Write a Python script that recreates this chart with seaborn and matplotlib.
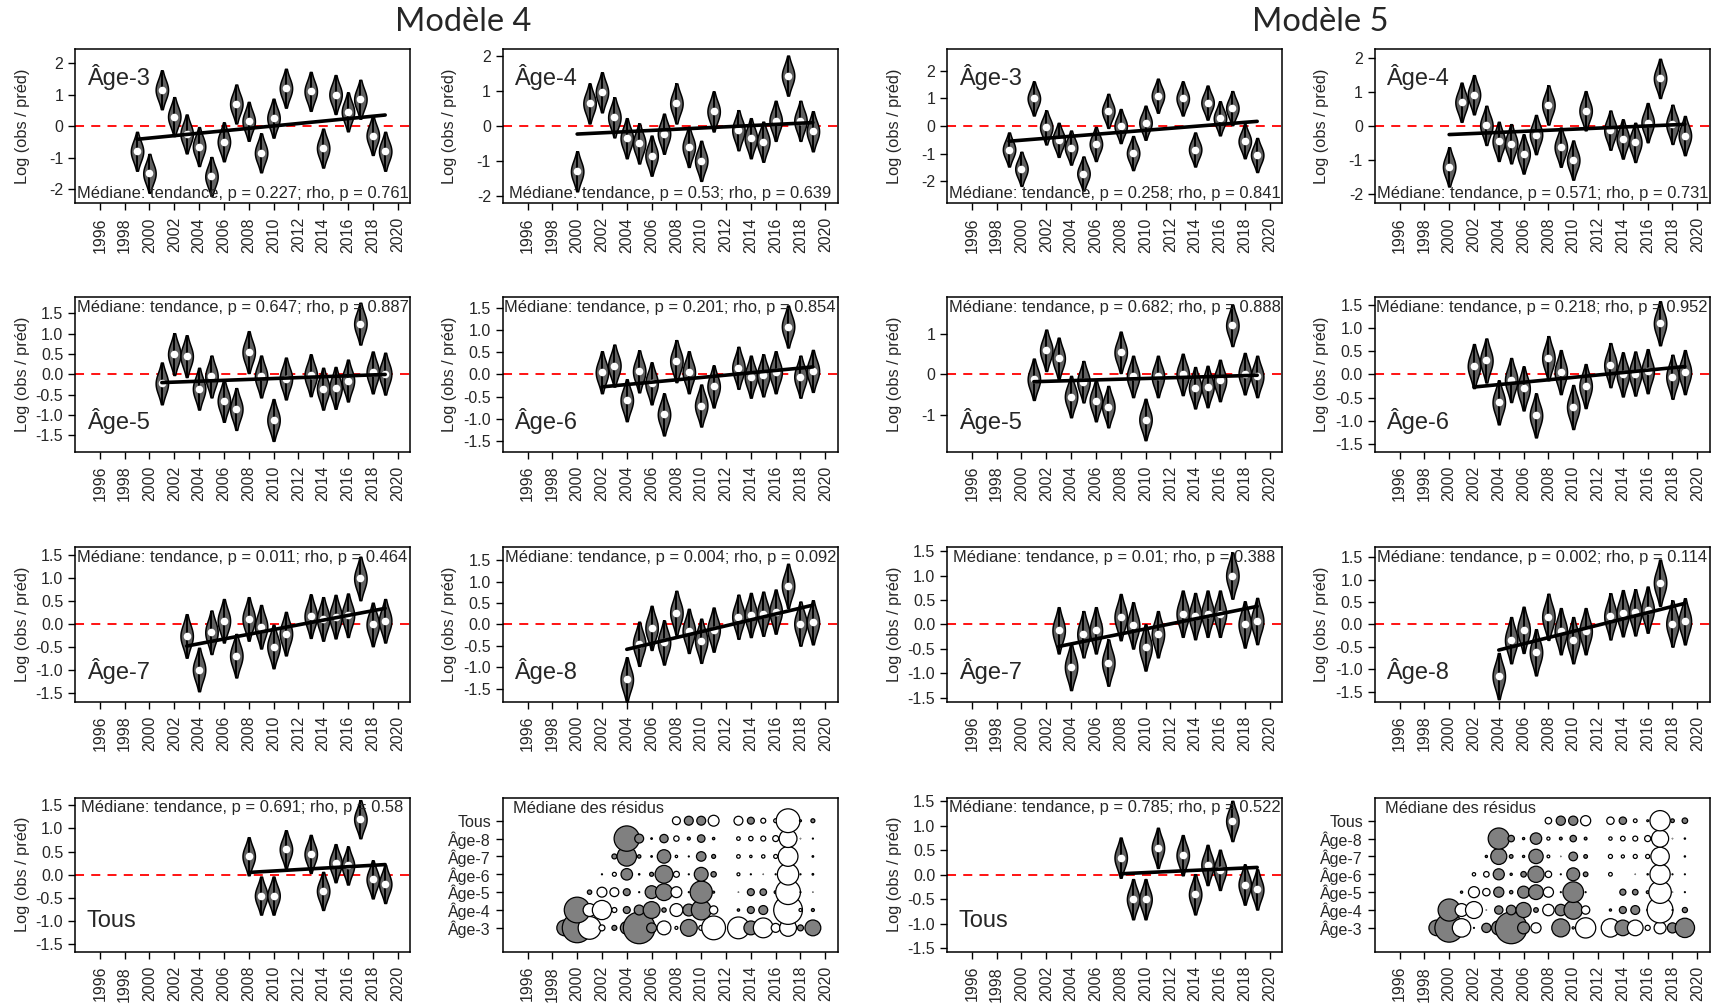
import numpy as np
import pandas as pd
import matplotlib
matplotlib.use("Agg")
import matplotlib.pyplot as plt
import seaborn as sns
from statistics import NormalDist

sns.set_style("ticks")
plt.rcParams['font.family'] = ['Liberation Sans', 'DejaVu Sans']
plt.rcParams['axes.unicode_minus'] = False

# ---------------- data ----------------
years_a3 = [1999, 2000, 2001, 2002, 2003, 2004, 2005, 2006, 2007, 2008, 2009, 2010, 2011,
            2013, 2014, 2015, 2016, 2017, 2018, 2019]
years_a4 = [2000, 2001, 2002, 2003, 2004, 2005, 2006, 2007, 2008, 2009, 2010, 2011,
            2013, 2014, 2015, 2016, 2017, 2018, 2019]
years_a5 = [2001, 2002, 2003, 2004, 2005, 2006, 2007, 2008, 2009, 2010, 2011,
            2013, 2014, 2015, 2016, 2017, 2018, 2019]
years_a6 = [2002, 2003, 2004, 2005, 2006, 2007, 2008, 2009, 2010, 2011,
            2013, 2014, 2015, 2016, 2017, 2018, 2019]
years_a7 = [2003, 2004, 2005, 2006, 2007, 2008, 2009, 2010, 2011,
            2013, 2014, 2015, 2016, 2017, 2018, 2019]
years_a8 = [2004, 2005, 2006, 2007, 2008, 2009, 2010, 2011,
            2013, 2014, 2015, 2016, 2017, 2018, 2019]
years_tous = [2008, 2009, 2010, 2011, 2013, 2014, 2015, 2016, 2017, 2018, 2019]

# Modèle 4 medians of residuals
m4_a3 = [-0.8, -1.5, 1.15, 0.3, -0.25, -0.65, -1.6, -0.5, 0.7, 0.15, -0.85, 0.25, 1.2,
         1.1, -0.7, 1.0, 0.45, 0.85, -0.3, -0.8]
m4_a4 = [-1.3, 0.65, 0.97, 0.25, -0.35, -0.5, -0.85, -0.22, 0.65, -0.6, -1.0, 0.42,
         -0.12, -0.35, -0.45, 0.15, 1.45, 0.15, -0.15]
m4_a5 = [-0.22, 0.5, 0.45, -0.35, -0.05, -0.65, -0.85, 0.55, -0.05, -1.12, -0.1,
         -0.02, -0.35, -0.33, -0.15, 1.25, 0.05, 0.02]
m4_a6 = [0.05, 0.2, -0.58, 0.07, -0.2, -0.9, 0.3, 0.05, -0.7, -0.27,
         0.15, -0.05, -0.02, 0.05, 1.08, -0.05, 0.08]
m4_a7 = [-0.25, -0.98, -0.17, 0.08, -0.68, 0.12, -0.05, -0.48, -0.2,
         0.18, 0.12, 0.17, 0.2, 1.0, 0.0, 0.08]
m4_a8 = [-1.28, -0.45, -0.08, -0.42, 0.27, -0.15, -0.38, -0.12,
         0.18, 0.22, 0.25, 0.3, 0.9, 0.02, 0.05]
m4_tous = [0.4, -0.45, -0.45, 0.55, 0.45, -0.35, 0.25, 0.2, 1.2, -0.1, -0.2]

# Modèle 5 medians of residuals
m5_a3 = [-0.85, -1.55, 1.0, -0.05, -0.5, -0.78, -1.72, -0.65, 0.55, 0.0, -0.98, 0.12, 1.1,
         1.0, -0.85, 0.85, 0.28, 0.65, -0.55, -1.05]
m5_a4 = [-1.2, 0.7, 0.92, 0.02, -0.45, -0.52, -0.82, -0.25, 0.62, -0.62, -1.0, 0.45,
         -0.12, -0.38, -0.48, 0.1, 1.4, 0.05, -0.28]
m5_a5 = [-0.12, 0.6, 0.4, -0.55, -0.18, -0.65, -0.8, 0.55, -0.05, -1.12, -0.05,
         0.0, -0.33, -0.3, -0.15, 1.22, 0.02, -0.05]
m5_a6 = [0.18, 0.3, -0.6, -0.12, -0.3, -0.88, 0.35, 0.05, -0.7, -0.25,
         0.2, 0.0, 0.02, 0.07, 1.1, -0.05, 0.05]
m5_a7 = [-0.12, -0.87, -0.2, -0.12, -0.78, 0.15, -0.02, -0.47, -0.2,
         0.22, 0.17, 0.22, 0.22, 1.0, 0.0, 0.07]
m5_a8 = [-1.15, -0.35, -0.12, -0.62, 0.17, -0.15, -0.35, -0.15,
         0.18, 0.25, 0.27, 0.33, 0.93, 0.02, 0.07]
m5_tous = [0.35, -0.5, -0.5, 0.55, 0.4, -0.4, 0.2, 0.1, 1.1, -0.2, -0.3]

# trend line (start, end) values
m4_trend = {"Âge-3": (-0.42, 0.35), "Âge-4": (-0.23, 0.10), "Âge-5": (-0.20, 0.0),
            "Âge-6": (-0.28, 0.17), "Âge-7": (-0.47, 0.35), "Âge-8": (-0.58, 0.45),
            "Tous": (0.05, 0.22)}
m5_trend = {"Âge-3": (-0.55, 0.17), "Âge-4": (-0.25, 0.05), "Âge-5": (-0.18, -0.02),
            "Âge-6": (-0.27, 0.17), "Âge-7": (-0.45, 0.37), "Âge-8": (-0.57, 0.47),
            "Tous": (0.02, 0.15)}

# p-values (tendance, rho)
m4_pvals = {"Âge-3": ("0.227", "0.761"), "Âge-4": ("0.53", "0.639"), "Âge-5": ("0.647", "0.887"),
            "Âge-6": ("0.201", "0.854"), "Âge-7": ("0.011", "0.464"), "Âge-8": ("0.004", "0.092"),
            "Tous": ("0.691", "0.58")}
m5_pvals = {"Âge-3": ("0.258", "0.841"), "Âge-4": ("0.571", "0.731"), "Âge-5": ("0.682", "0.888"),
            "Âge-6": ("0.218", "0.952"), "Âge-7": ("0.01", "0.388"), "Âge-8": ("0.002", "0.114"),
            "Tous": ("0.785", "0.522")}

# spread of posterior residual distributions (violin half-scale)
spread = {"Âge-3": 0.30, "Âge-4": 0.28, "Âge-5": 0.25, "Âge-6": 0.23,
          "Âge-7": 0.23, "Âge-8": 0.25, "Tous": 0.20}

panel_names = ["Âge-3", "Âge-4", "Âge-5", "Âge-6", "Âge-7", "Âge-8", "Tous"]
years_by_panel = dict(zip(panel_names, [years_a3, years_a4, years_a5, years_a6,
                                        years_a7, years_a8, years_tous]))
m4_med = dict(zip(panel_names, [m4_a3, m4_a4, m4_a5, m4_a6, m4_a7, m4_a8, m4_tous]))
m5_med = dict(zip(panel_names, [m5_a3, m5_a4, m5_a5, m5_a6, m5_a7, m5_a8, m5_tous]))

# axis settings: (half y-range, ticks)
T2 = [-2, -1, 0, 1, 2]
T15 = [-1.5, -1.0, -0.5, 0.0, 0.5, 1.0, 1.5]
m4_yaxis = {"Âge-3": (2.45, T2), "Âge-4": (2.22, T2), "Âge-5": (1.90, T15), "Âge-6": (1.74, T15),
            "Âge-7": (1.68, T15), "Âge-8": (1.80, T15), "Tous": (1.67, T15)}
m5_yaxis = {"Âge-3": (2.80, T2), "Âge-4": (2.27, T2), "Âge-5": (1.92, [-1, 0, 1]),
            "Âge-6": (1.66, T15), "Âge-7": (1.58, T15), "Âge-8": (1.72, T15), "Tous": (1.58, T15)}

year_ticks = [1996, 1998, 2000, 2002, 2004, 2006, 2008, 2010, 2012, 2014, 2016, 2018, 2020]

# ---------------- layout ----------------
W, H = 1721, 1007
fig = plt.figure(figsize=(W / 100, H / 100), dpi=100)
col_left = [75 / W, 502.7 / W, 947 / W, 1374.7 / W]
ax_w = 335 / W
row_bottom = [1 - 203.3 / H, 1 - 451.7 / H, 1 - 701.7 / H, 1 - 952 / H]
ax_h = 154.5 / H

qs = np.array([NormalDist().inv_cdf(p) for p in np.linspace(0.02, 0.98, 49)])

VIOLIN_FILL = "#606060"
TICK_FS = 11.5


def style_axes(ax, half, ticks):
    ax.set_xlim(1994, 2021)
    ax.set_xticks(year_ticks)
    ax.set_xticklabels([str(y) for y in year_ticks], rotation=90)
    ax.set_ylim(-half, half)
    ax.set_yticks(ticks)
    if all(float(t).is_integer() for t in ticks):
        ax.set_yticklabels([f"{int(t)}" for t in ticks])
    else:
        ax.set_yticklabels([f"{t:.1f}" for t in ticks])
    for s in ax.spines.values():
        s.set_visible(True)
        s.set_color("black")
        s.set_linewidth(1.1)
    ax.tick_params(axis="both", length=5, width=1, labelsize=TICK_FS, color="black",
                   direction="out")
    ax.tick_params(axis="x", pad=5)
    ax.set_xlabel("")


def violin_panel(ax, name, years, meds, trend, pv, yax, top_row):
    sd = spread[name]
    rows = []
    for y, m in zip(years, meds):
        for v in m + sd * qs:
            rows.append((y, v))
    df = pd.DataFrame(rows, columns=["year", "value"])
    ax.axhline(0, color="red", ls=(0, (5, 4)), lw=1.3, zorder=0.5)
    sns.violinplot(data=df, x="year", y="value", native_scale=True, cut=0, inner=None,
                   color=VIOLIN_FILL, saturation=1, linecolor="black", linewidth=1.1,
                   width=1.0, density_norm="width", bw_adjust=0.9, ax=ax, zorder=2)
    ext = df.groupby("year")["value"].agg(["min", "max"]).reset_index()
    ax.vlines(ext["year"], ext["min"], ext["max"], color="black", lw=1.4, zorder=3)
    sns.scatterplot(x=years, y=meds, color="white", s=30, linewidth=0, zorder=4, ax=ax)
    sns.lineplot(x=[years[0], years[-1]], y=list(trend), color="black", lw=2.6,
                 zorder=5, ax=ax)
    style_axes(ax, *yax)
    ax.set_ylabel("Log (obs / préd)", fontsize=11.8)
    ax.yaxis.set_label_coords(-0.135, 0.5)
    txt = f"Médiane: tendance, p = {pv[0]}; rho, p = {pv[1]}"
    if top_row:
        ax.text(0.5, 0.065, txt, transform=ax.transAxes, ha="center", va="center",
                fontsize=11.9, zorder=6)
        ax.text(0.035, 0.82, name, transform=ax.transAxes, ha="left", va="center",
                fontsize=17, zorder=6)
    else:
        ax.text(0.5, 0.935, txt, transform=ax.transAxes, ha="center", va="center",
                fontsize=11.9, zorder=6)
        ax.text(0.035, 0.20, name, transform=ax.transAxes, ha="left", va="center",
                fontsize=17, zorder=6)


def bubble_panel(ax, meds):
    rows = []
    for lvl, name in enumerate(panel_names, start=1):
        for y, m in zip(years_by_panel[name], meds[name]):
            rows.append((y, lvl, m))
    df = pd.DataFrame(rows, columns=["year", "level", "value"])
    df["area"] = df["value"] ** 2
    df["sign"] = np.where(df["value"] < 0, "neg", "pos")
    vmax2 = df["area"].max()
    sns.scatterplot(data=df, x="year", y="level", size="area", hue="sign",
                    palette={"neg": "#808080", "pos": "white"}, sizes=(0, 520),
                    size_norm=(0, vmax2), edgecolor="black", linewidth=0.9,
                    legend=False, ax=ax, zorder=3)
    style_axes(ax, 1, [0])
    ax.set_ylim(-0.35, 8.3)
    ax.set_yticks(range(1, 8))
    ax.set_yticklabels(panel_names, fontsize=TICK_FS)
    ax.set_ylabel("")
    ax.text(0.03, 0.975, "Médiane des résidus", transform=ax.transAxes, ha="left",
            va="top", fontsize=11.8)


layout_cols = [["Âge-3", "Âge-5", "Âge-7", "Tous"], ["Âge-4", "Âge-6", "Âge-8", None]]
for mi, (meds, trends, pvals, yaxes) in enumerate([(m4_med, m4_trend, m4_pvals, m4_yaxis),
                                                    (m5_med, m5_trend, m5_pvals, m5_yaxis)]):
    for ci in range(2):
        for ri in range(4):
            ax = fig.add_axes([col_left[2 * mi + ci], row_bottom[ri], ax_w, ax_h])
            name = layout_cols[ci][ri]
            if name is None:
                bubble_panel(ax, meds)
            else:
                violin_panel(ax, name, years_by_panel[name], meds[name], trends[name],
                             pvals[name], yaxes[name], ri == 0)

fig.text(463 / W, 1 - 22 / H, "Modèle 4", ha="center", va="center", fontsize=23.5,
         family=["Lato", "DejaVu Sans"])
fig.text(1320 / W, 1 - 22 / H, "Modèle 5", ha="center", va="center", fontsize=23.5,
         family=["Lato", "DejaVu Sans"])

fig.savefig("out.png", dpi=100)
